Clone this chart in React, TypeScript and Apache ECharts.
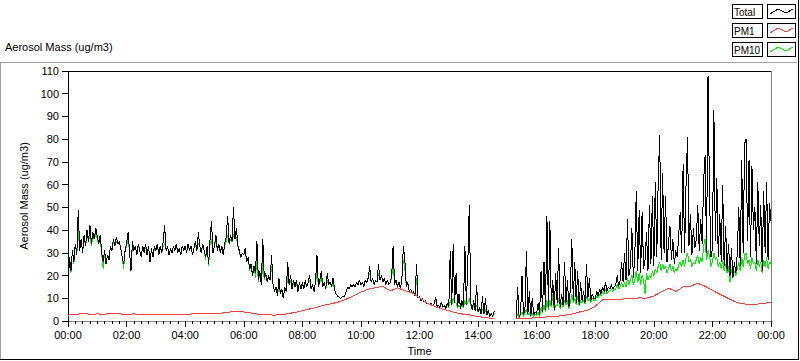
import React, { useEffect, useRef } from "react";
import * as echarts from "echarts";

// Sampling interval of the Total / PM10 records, in hours (3 minutes)
const SAMPLE_STEP_H = 0.05;

// Total aerosol mass (ug/m3), one row per hour, 20 samples per row
const totalValues: (number | null)[] = [
  13, 28, 22, 31, 26, 34, 29, 49, 31, 36, 30, 38, 33, 40, 35, 42, 34, 39, 36, 41,
  37, 34, 38, 30, 26, 31, 25, 29, 27, 33, 31, 36, 33, 37, 34, 35, 32, 28, 25, 31,
  34, 39, 31, 22, 35, 31, 33, 29, 34, 31, 28, 33, 30, 34, 29, 33, 26, 32, 28, 33,
  31, 34, 29, 33, 30, 35, 42, 31, 33, 29, 32, 30, 33, 31, 34, 30, 32, 29, 33, 31,
  33, 30, 34, 31, 33, 29, 32, 35, 31, 39, 33, 30, 34, 31, 28, 33, 25, 36, 44, 30,
  33, 38, 31, 34, 30, 33, 29, 34, 37, 46, 34, 38, 35, 50, 36, 41, 33, 31, 28, 30,
  29, 32, 26, 28, 23, 25, 20, 24, 21, 35, 18, 22, 16, 36, 19, 21, 17, 20, 18, 29,
  16, 13, 15, 11, 19, 12, 14, 10, 15, 13, 26, 16, 20, 14, 18, 15, 18, 13, 17, 14,
  17, 14, 18, 15, 17, 20, 14, 16, 13, 17, 29, 15, 18, 22, 15, 17, 14, 21, 16, 17,
  15, 19, 14, 12, 11, 10.5, 10, 10.5, 11, 11, 13, 15, 14, 16, 15, 16, 15, 17, 16, 18,
  16, 17, 15, 18, 17, 19, 24, 17, 19, 16, 18, 17, 25, 18, 20, 17, 19, 16, 18, 16,
  17, 20, 33, 16, 18, 15, 17, 14, 19, 33, 27, 15, 17, 13, 14, 12, 13, 11, 25, 10,
  11, 9, 10, 8.5, 9, 7.5, 8, 7, 8, 6.5, 7.5, 10.7, 6.5, 7, 6, 8.5, 6, 7, 5.5, 8,
  6, 31, 7, 34, 8, 21, 6, 12, 5.5, 9, 6, 33, 7, 26, 51, 8, 5, 9, 4.5, 16,
  4, 6, 3, 11, 3, 10, 2.5, 5, 2, 3.5, 2, 4.4, null, null, null, null, null, null, null, null,
  null, null, null, null, null, null, 1.2, 15, 2, 3, 20, 2.5, 5, 31, 3, 13, 2, 10, 2.5, 4,
  3, 8, 2.5, 22, 4, 26, 5, 46, 6, 44, 7, 18, 5, 21, 8, 32, 6, 12, 7, 26,
  8, 18, 6, 14, 36, 9, 26, 8, 22, 7, 17, 9, 13, 8, 25, 10, 19, 9, 12, 10,
  10, 13, 11, 14, 12, 15, 13, 17, 13, 15, 14, 16, 14, 15, 16, 20, 15, 18, 26, 17,
  30, 18, 45, 20, 24, 41, 19, 28, 57, 22, 49, 21, 48, 23, 27, 39, 22, 51, 25, 55,
  24, 61, 28, 62, 82, 27, 65, 30, 55, 26, 34, 42, 27, 36, 25, 31, 28, 38, 48, 30,
  69, 30, 60, 81, 33, 47, 29, 41, 32, 36, 51, 31, 45, 34, 62, 73, 30, 108, 56, 28,
  32, 93, 35, 63, 28, 47, 26, 60, 24, 42, 22, 34, 20, 32, 19, 26, 21, 30, 50, 24,
  71, 30, 78, 80, 35, 71, 28, 68, 40, 50, 25, 61, 33, 51, 22, 57, 30, 61, 27, 52,
  44,
];

// PM10 mass (ug/m3), same sampling
const pm10Values: (number | null)[] = [
  13, 28, 21, 31, 25, 34, 29, 40, 31, 36, 30, 37, 33, 38, 35, 38, 33, 37, 36, 38,
  36, 34, 36, 30, 23, 31, 25, 29, 27, 33, 31, 35, 33, 35, 34, 35, 32, 28, 23, 31,
  33, 36, 31, 22, 34, 31, 33, 29, 33, 31, 28, 33, 30, 33, 29, 33, 26, 32, 28, 32,
  31, 33, 29, 33, 30, 33, 34, 31, 33, 29, 32, 30, 33, 31, 33, 30, 32, 29, 33, 31,
  33, 30, 33, 31, 33, 29, 32, 34, 31, 34, 33, 30, 33, 31, 27, 33, 24, 34, 36, 30,
  33, 35, 31, 34, 30, 33, 29, 33, 35, 38, 34, 36, 35, 38, 36, 37, 33, 30, 28, 30,
  29, 31, 26, 28, 22, 25, 20, 24, 19, 28, 17, 22, 16, 26, 18, 21, 17, 20, 18, 24,
  16, 13, 15, 11, 16, 12, 14, 10, 15, 13, 20, 16, 18, 14, 17, 15, 17, 13, 17, 14,
  17, 14, 17, 15, 17, 18, 14, 16, 13, 17, 22, 15, 17, 19, 15, 17, 14, 18, 16, 17,
  15, 17, 14, 12, 11, 10.5, 10, 10.5, 11, 11, 13, 15, 14, 16, 15, 16, 15, 17, 16, 18,
  16, 17, 15, 18, 17, 19, 21, 17, 19, 16, 18, 17, 21, 18, 20, 17, 19, 16, 18, 16,
  17, 19, 26, 16, 18, 15, 17, 14, 19, 27, 23, 15, 17, 13, 14, 12, 13, 11, 19, 10,
  11, 9, 10, 8.5, 9, 7.5, 8, 7, 8, 6.5, 7.5, 9, 6.5, 7, 6, 8, 6, 7, 5.5, 7.5,
  6, 9, 7, 10, 8, 8, 6, 7, 5.5, 7, 6, 9, 7, 8, 10, 7, 5, 7, 4.5, 7,
  4, 5, 3, 5, 3, 5, 2.5, 4, 2, 3, 2, 3.5, null, null, null, null, null, null, null, null,
  null, null, null, null, null, null, 1, 3, 1.5, 2.5, 4, 2, 3.5, 5, 2.5, 4, 1.8, 3.5, 2, 3,
  2.5, 4, 2, 6, 3.5, 7, 4, 9, 5, 9, 6, 12, 4.5, 7, 6.5, 10, 5.5, 8, 6, 9,
  7, 9, 5.5, 8, 12, 8, 10, 7, 11, 6.5, 9, 8, 9, 7.5, 11, 9, 10, 8, 10, 9,
  9, 11, 10, 12, 11, 13, 12, 14, 12, 13, 13, 14, 13, 14, 14, 16, 14, 15, 17, 15,
  17, 15, 19, 16, 18, 20, 16, 18, 22, 17, 21, 16, 20, 18, 12, 21, 18, 20, 19, 22,
  20, 23, 21, 24, 26, 22, 25, 23, 24, 21, 23, 25, 22, 24, 21, 23, 22, 25, 26, 24,
  27, 24, 28, 30, 26, 27, 24, 26, 25, 27, 29, 25, 28, 26, 33, 36, 27, 31, 29, 24,
  26, 30, 27, 28, 24, 26, 23, 27, 22, 25, 21, 24, 17, 23, 19, 22, 20, 23, 26, 22,
  28, 24, 29, 30, 25, 27, 23, 28, 25, 26, 22, 27, 24, 26, 21, 27, 24, 28, 23, 26,
  25,
];

// PM1 mass (ug/m3) and its sample times (hours)
const pm1Hours: number[] = [
  0, 0.25, 0.5, 0.75, 1, 1.25, 1.5, 1.75, 2, 2.25, 2.5, 2.75, 3, 3.25, 3.5, 3.75,
  4, 4.25, 4.5, 4.75, 5, 5.25, 5.5, 5.75, 6, 6.25, 6.5, 6.75, 7, 7.25, 7.5, 7.75,
  8, 8.25, 8.5, 8.75, 9, 9.25, 9.5, 9.75, 10, 10.25, 10.5, 10.75, 11, 11.25, 11.5, 11.75,
  12, 12.25, 12.5, 12.75, 13, 13.25, 13.5, 13.75, 14, 14.25, 14.55, 14.9,
  15.3, 15.5, 15.75, 16, 16.25, 16.5, 16.75, 17, 17.25, 17.5, 17.75,
  18, 18.25, 18.5, 18.75, 19, 19.25, 19.5, 19.75, 20, 20.25, 20.5, 20.75,
  21, 21.25, 21.5, 21.75, 22, 22.25, 22.5, 22.75, 23, 23.25, 23.5, 23.75, 24,
];
const pm1Values: (number | null)[] = [
  2.6, 2.8, 3.3, 3.0, 3.1, 3.0, 3.3, 3.1, 3.0, 3.1, 3.0, 3.0, 2.9, 2.9, 3.0, 2.9,
  3.0, 3.1, 3.2, 3.3, 3.3, 3.5, 3.9, 4.3, 4.0, 3.5, 3.0, 2.8, 2.6, 2.7, 3.2, 3.8,
  4.5, 5.3, 6.0, 7.0, 7.6, 8.4, 9.6, 11.2, 12.7, 14.0, 14.7, 15.3, 13.2, 14.6, 13.3, 12.4,
  10.2, 8.0, 6.5, 5.3, 4.5, 3.6, 3.0, 2.6, 1.9, 1.5, 1.0, null,
  0.9, 1.0, 1.2, 1.5, 1.7, 1.9, 2.2, 2.6, 3.2, 4.1, 4.8,
  6.5, 9.3, 9.5, 9.6, 9.7, 9.8, 10.2, 10.0, 11.0, 12.8, 14.5, 13.0,
  15.0, 15.3, 16.6, 15.3, 13.5, 11.8, 10.2, 8.6, 7.6, 7.3, 7.4, 7.8, 8.2,
];

const legendNames = ["Total", "PM1", "PM10"];
const legendColors = ["#000000", "#ff3c3c", "#00ee00"];

const FONT = "Liberation Sans, Arial, sans-serif";

export default function App() {
  const ref = useRef<HTMLDivElement>(null);

  useEffect(() => {
    document.body.style.margin = "0";
    const chart = echarts.init(ref.current!, null, { renderer: "svg" });

    const toPairs = (vals: (number | null)[]) =>
      vals.map((v, i) => [Number((i * SAMPLE_STEP_H).toFixed(2)), v == null ? "-" : v]);
    const pm1Pairs = pm1Hours.map((h, i) => [h, pm1Values[i] == null ? "-" : pm1Values[i]]);

    const pad = (n: number) => (n < 10 ? "0" + n : "" + n);

    const legendGraphics: any[] = [];
    legendNames.forEach((name, i) => {
      const y0 = 4 + i * 19;
      legendGraphics.push(
        {
          type: "rect",
          shape: { x: 732.5, y: y0 + 0.5, width: 30, height: 14 },
          style: { fill: "#fff", stroke: "#000", lineWidth: 1 },
        },
        {
          type: "text",
          x: 734,
          y: y0 + 8,
          style: {
            text: name,
            fill: "#000",
            font: `10px ${FONT}`,
            verticalAlign: "middle",
            align: "left",
          },
        },
        {
          type: "rect",
          shape: { x: 767.5, y: y0 + 0.5, width: 28, height: 14 },
          style: { fill: "#fff", stroke: "#000", lineWidth: 1 },
        },
        {
          type: "polyline",
          shape: {
            points: [
              [770, y0 + 10],
              [778, y0 + 5],
              [786, y0 + 9],
              [793, y0 + 5],
            ],
          },
          style: { stroke: legendColors[i], lineWidth: 1, fill: "none" },
        }
      );
    });

    const frame: any[] = [
      { type: "line", shape: { x1: 0, y1: 62.5, x2: 797, y2: 62.5 }, style: { stroke: "#a0a0a0", lineWidth: 1 } },
      { type: "line", shape: { x1: 0.5, y1: 62, x2: 0.5, y2: 360 }, style: { stroke: "#a0a0a0", lineWidth: 1 } },
      { type: "line", shape: { x1: 0, y1: 359.5, x2: 799, y2: 359.5 }, style: { stroke: "#000", lineWidth: 1 } },
      { type: "line", shape: { x1: 798.5, y1: 0, x2: 798.5, y2: 360 }, style: { stroke: "#000", lineWidth: 1 } },
      {
        type: "text",
        x: 5,
        y: 47,
        style: {
          text: "Aerosol Mass (ug/m3)",
          fill: "#000",
          font: `11px ${FONT}`,
          verticalAlign: "middle",
          align: "left",
        },
      },
    ];

    chart.setOption({
      animation: false,
      backgroundColor: "#ffffff",
      textStyle: { fontFamily: FONT },
      grid: {
        left: 68,
        right: 29,
        top: 71,
        bottom: 40,
        show: true,
        borderColor: "#808080",
        borderWidth: 1,
        backgroundColor: "#ffffff",
      },
      xAxis: [
        {
          type: "value",
          min: 0,
          max: 24,
          interval: 2,
          axisLine: { show: true, lineStyle: { color: "#808080", width: 1 } },
          axisTick: { show: true, length: 6, lineStyle: { color: "#000" } },
          minorTick: { show: true, splitNumber: 8, length: 3, lineStyle: { color: "#000" } },
          splitLine: { show: false },
          axisLabel: {
            color: "#000",
            fontSize: 11,
            fontFamily: FONT,
            margin: 8,
            formatter: (v: number) => pad(v % 24) + ":00",
          },
          name: "Time",
          nameLocation: "middle",
          nameGap: 24,
          nameTextStyle: { color: "#000", fontSize: 11, fontFamily: FONT },
        },
        {
          type: "value",
          position: "top",
          min: 0,
          max: 24,
          interval: 2,
          axisLine: { show: true, lineStyle: { color: "#000", width: 1 } },
          axisTick: { show: false },
          axisLabel: { show: false },
          splitLine: { show: false },
        },
      ],
      yAxis: {
        type: "value",
        min: 0,
        max: 110,
        interval: 10,
        axisLine: { show: true, lineStyle: { color: "#000", width: 1 } },
        axisTick: { show: true, length: 6, lineStyle: { color: "#000" } },
        splitLine: { show: false },
        axisLabel: { color: "#000", fontSize: 11, fontFamily: FONT, margin: 9 },
        name: "Aerosol Mass (ug/m3)",
        nameLocation: "middle",
        nameGap: 31,
        nameTextStyle: { color: "#000", fontSize: 11, fontFamily: FONT },
      },
      series: [
        {
          name: "PM10",
          type: "line",
          data: toPairs(pm10Values),
          showSymbol: false,
          symbol: "none",
          silent: true,
          lineStyle: { color: legendColors[2], width: 1 },
          itemStyle: { color: legendColors[2] },
        },
        {
          name: "Total",
          type: "line",
          data: toPairs(totalValues),
          showSymbol: false,
          symbol: "none",
          silent: true,
          lineStyle: { color: legendColors[0], width: 1 },
          itemStyle: { color: legendColors[0] },
        },
        {
          name: "PM1",
          type: "line",
          data: pm1Pairs,
          showSymbol: false,
          symbol: "none",
          silent: true,
          lineStyle: { color: legendColors[1], width: 1 },
          itemStyle: { color: legendColors[1] },
        },
      ],
      graphic: [...frame, ...legendGraphics],
    });

    return () => {
      chart.dispose();
    };
  }, []);

  return (
    <>
      <style>{"svg path{shape-rendering:crispEdges}"}</style>
      <div ref={ref} style={{ width: 800, height: 361 }} />
    </>
  );
}
